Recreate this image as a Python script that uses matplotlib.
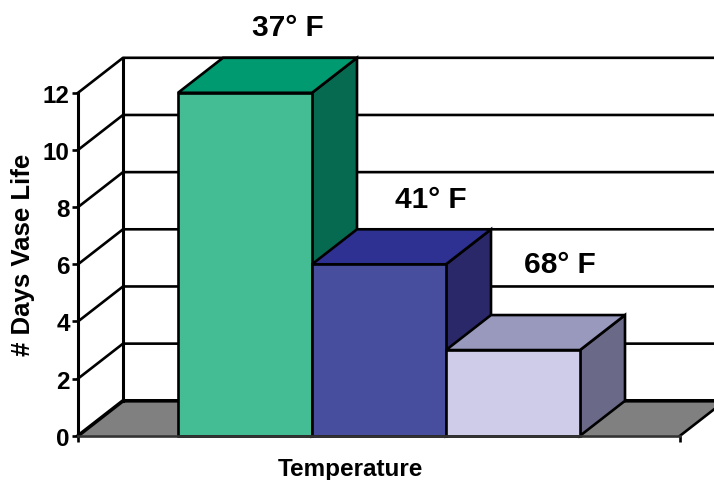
import matplotlib

matplotlib.use("Agg")
import matplotlib.pyplot as plt
from matplotlib.patches import Polygon

plt.rcParams["font.family"] = ["Liberation Sans", "DejaVu Sans"]

# Data
categories = ["37° F", "41° F", "68° F"]
vase_life = [12, 6, 3]
y_ticks = [0, 2, 4, 6, 8, 10, 12]

# Styles
front_colors = ["#44BC94", "#474E9E", "#CECCE8"]
top_colors = ["#009A70", "#2E3092", "#9899BD"]
side_colors = ["#066A50", "#2A2868", "#6A6A88"]
floor_color = "#808080"
label_pixels = [(288, 28), (431, 200), (560, 265)]

WIDTH, HEIGHT = 714, 481
LEFT, RIGHT, BOTTOM, TOP = 78, 680, 436.8, 93.8  # plot box, pixels
DX = 45 / 134  # depth offset in category units
DY = 35 / (343 / 12)  # depth offset in value units
LW = 1.9

fig = plt.figure(figsize=(WIDTH / 100, HEIGHT / 100), dpi=100)
ax = fig.add_axes(
    [
        LEFT / WIDTH,
        1 - BOTTOM / HEIGHT,
        (RIGHT - LEFT) / WIDTH,
        (BOTTOM - TOP) / HEIGHT,
    ]
)
x0, x1 = (LEFT - 245) / 134, (RIGHT - 245) / 134
ax.set_xlim(x0, x1)
ax.set_ylim(0, 12)
ax.patch.set_visible(False)

# x position of the figure's right edge, gridlines run off to there
x_edge = (WIDTH - 245) / 134

# Floor
ax.add_patch(
    Polygon(
        [(x0, 0), (x1, 0), (x1 + DX, DY), (x0 + DX, DY)],
        facecolor=floor_color,
        edgecolor="none",
        clip_on=False,
        zorder=1,
    )
)

# Back wall and gridlines
for tick in y_ticks:
    ax.plot(
        [x0, x0 + DX, x_edge],
        [tick, tick + DY, tick + DY],
        color="black",
        lw=2.6 if tick == 0 else LW,
        clip_on=False,
        zorder=2,
    )
ax.plot(
    [x0 + DX, x0 + DX],
    [DY, 12 + DY],
    color="black",
    lw=LW + 0.3,
    clip_on=False,
    zorder=2,
)
ax.plot([x1, x1 + DX], [0, DY], color="black", lw=LW, clip_on=False, zorder=2)

# Bars, left to right so each one covers the side of the previous one
for i, value in enumerate(vase_life):
    z = 3 + i
    left, right = i - 0.5, i + 0.5
    ax.add_patch(
        Polygon(
            [
                (right, 0),
                (right + DX, DY),
                (right + DX, value + DY),
                (right, value),
            ],
            facecolor=side_colors[i],
            edgecolor="black",
            lw=LW,
            clip_on=False,
            zorder=z,
        )
    )
    ax.add_patch(
        Polygon(
            [
                (left, value),
                (right, value),
                (right + DX, value + DY),
                (left + DX, value + DY),
            ],
            facecolor=top_colors[i],
            edgecolor="black",
            lw=LW,
            clip_on=False,
            zorder=z,
        )
    )
    ax.bar(
        i,
        value,
        width=1,
        color=front_colors[i],
        edgecolor="black",
        lw=LW,
        clip_on=False,
        zorder=z,
    )

# Axes
for side in ("top", "right"):
    ax.spines[side].set_visible(False)
ax.spines["left"].set_linewidth(LW + 0.3)
ax.spines["bottom"].set_linewidth(LW)
ax.spines["bottom"].set_color("#333333")
ax.spines["left"].set_zorder(8)
ax.spines["bottom"].set_zorder(8)
ax.set_yticks(y_ticks)
ax.set_xticks([x0, x1])
ax.set_xticklabels([])
ax.tick_params(axis="y", length=4, width=LW, pad=2)
ax.tick_params(axis="x", length=4, width=LW)
for label in ax.get_yticklabels():
    label.set_fontsize(17.5)
    label.set_fontweight("bold")

# Labels
for name, (px, py) in zip(categories, label_pixels):
    fig.text(
        px / WIDTH,
        1 - py / HEIGHT,
        name,
        fontsize=21.5,
        fontweight="bold",
        ha="center",
        va="center",
    )
fig.text(
    350 / WIDTH,
    1 - 476 / HEIGHT,
    "Temperature",
    fontsize=17.5,
    fontweight="bold",
    ha="center",
    va="baseline",
)
fig.text(
    23 / WIDTH,
    1 - 255 / HEIGHT,
    "# Days Vase Life",
    fontsize=18.5,
    fontweight="bold",
    rotation=90,
    ha="center",
    va="center",
)

fig.savefig("out.png", dpi=100)
plt.close(fig)
